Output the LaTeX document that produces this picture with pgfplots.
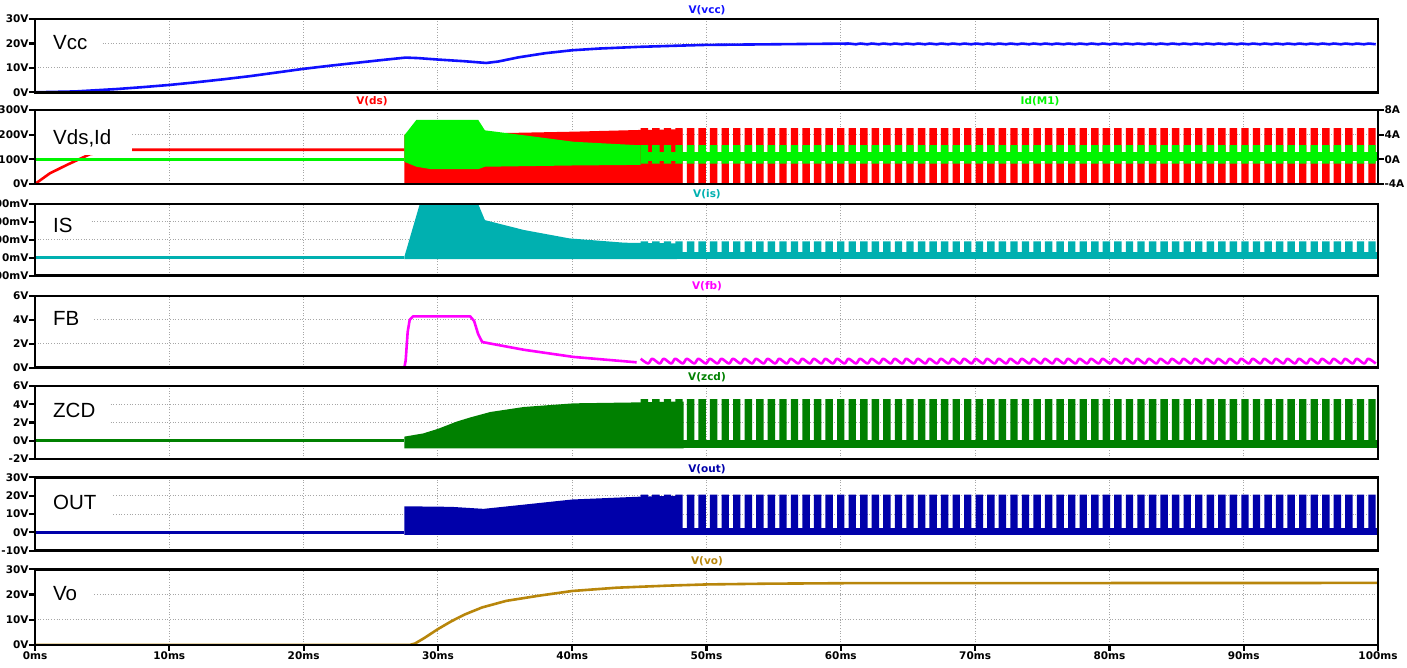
\documentclass[border=0pt]{standalone}
\usepackage{fontspec}
\setmainfont{DejaVu Sans}
\newfontfamily\labfam{Liberation Sans}
\usepackage{pgfplots}
\usepackage{pgfplotstable}
\pgfplotsset{compat=1.18}

\definecolor{vccblue}{RGB}{16,16,255}
\definecolor{vdsred}{RGB}{255,0,0}
\definecolor{idgreen}{RGB}{0,245,0}
\definecolor{isteal}{RGB}{0,176,176}
\definecolor{fbmag}{RGB}{255,0,255}
\definecolor{zcdgreen}{RGB}{0,128,0}
\definecolor{outblue}{RGB}{0,0,170}
\definecolor{vobrown}{RGB}{184,134,11}

\newcommand{\tickfont}{\fontsize{10.5pt}{12pt}\selectfont\bfseries}
\newcommand{\labfont}{\labfam\fontsize{20.5pt}{24pt}\selectfont}

\pgfplotstableread{
t f
45.10 0
45.10 1
45.65 0
45.96 1
46.51 0
46.82 1
47.37 0
47.68 1
48.23 0
48.54 1
49.09 0
49.40 1
49.95 0
50.26 1
50.81 0
51.12 1
51.67 0
51.98 1
52.53 0
52.84 1
53.39 0
53.70 1
54.25 0
54.56 1
55.11 0
55.42 1
55.97 0
56.28 1
56.83 0
57.14 1
57.69 0
58.00 1
58.55 0
58.86 1
59.41 0
59.72 1
60.27 0
60.58 1
61.13 0
61.44 1
61.99 0
62.30 1
62.85 0
63.16 1
63.71 0
64.02 1
64.57 0
64.88 1
65.43 0
65.74 1
66.29 0
66.60 1
67.15 0
67.46 1
68.01 0
68.32 1
68.87 0
69.18 1
69.73 0
70.04 1
70.59 0
70.90 1
71.45 0
71.76 1
72.31 0
72.62 1
73.17 0
73.48 1
74.03 0
74.34 1
74.89 0
75.20 1
75.75 0
76.06 1
76.61 0
76.92 1
77.47 0
77.78 1
78.33 0
78.64 1
79.19 0
79.50 1
80.05 0
80.36 1
80.91 0
81.22 1
81.77 0
82.08 1
82.63 0
82.94 1
83.49 0
83.80 1
84.35 0
84.66 1
85.21 0
85.52 1
86.07 0
86.38 1
86.93 0
87.24 1
87.79 0
88.10 1
88.65 0
88.96 1
89.51 0
89.82 1
90.37 0
90.68 1
91.23 0
91.54 1
92.09 0
92.40 1
92.95 0
93.26 1
93.81 0
94.12 1
94.67 0
94.98 1
95.53 0
95.84 1
96.39 0
96.70 1
97.25 0
97.56 1
98.11 0
98.42 1
98.97 0
99.28 1
99.83 0
}\bursts

\pgfplotsset{
  panel/.style={
    scale only axis, width=1343pt, xmin=0, xmax=100,
    anchor=south west, clip mode=individual,
    xtick={0,10,...,100},
    xmajorgrids, ymajorgrids,
    grid style={line width=0.9pt, color=gray!70, dash pattern=on 0.9pt off 1.8pt},
    axis line style={line width=2.6pt, black},
    every tick/.style={line width=2.2pt, black},
    major tick length=6pt, tick align=outside,
    ytick pos=left, xtick pos=bottom,
    yticklabel style={font=\tickfont, inner xsep=0.3pt},
    xticklabel style={font=\tickfont, inner ysep=1pt},
  },
  upper/.style={xmajorticks=false},
}
\tikzset{
  trace/.style={line width=2.6pt, line join=round},
  lab/.style={fill=white, anchor=west, inner xsep=0pt, inner ysep=6pt, font=\labfont, xshift=1.3pt},
  ttl/.style={font=\tickfont},
  frame/.style={line width=2.8pt, black},
}

\begin{document}
\begin{tikzpicture}
% ---------- Vcc ----------
\begin{axis}[panel, upper, at={(35pt,575.7pt)}, height=73.3pt,
  ymin=0, ymax=30, ytick={0,10,20,30}, yticklabels={0V,10V,20V,30V}]
\addplot[trace, vccblue] coordinates {(0,0)(3,0.35)(6,1.3)(8,2.1)(10,3.0)(12,4.1)(14,5.3)(16,6.6)(18,8.1)(20,9.6)(22,10.9)(24,12.1)(26,13.3)(27.6,14.2)(28.5,14.0)(30,13.4)(32,12.7)(33.6,12.0)(34.5,12.6)(36,14.3)(38,16.0)(40,17.2)(42,17.9)(45,18.6)(48,19.1)(50,19.4)(55,19.65)(60.58,19.95)};
\addplot[trace, vccblue, smooth, restrict x to domain=60:100] table[x=t, y expr={19.65+0.3*\thisrow{f}}] {\bursts};
\node[lab] at (axis cs:0,20.3) {\hspace*{16.7pt}Vcc\hspace*{15pt}};
\draw[frame] (rel axis cs:0,0) rectangle (rel axis cs:1,1);
\end{axis}

% ---------- Vds / Id ----------
\begin{axis}[panel, upper, at={(35pt,484pt)}, height=74pt,
  ymin=0, ymax=300, ytick={0,100,200,300}, yticklabels={0V,100V,200V,300V}]
\addplot[trace, vdsred] coordinates {(0,0)(1.1,43)(2.36,77)(4.1,121)(5.5,133)(7,139)(27.5,139)};
\addplot[fill=vdsred, draw=none] coordinates {(27.5,0)(27.5,200)(33.5,205)(40,212)(45,219)(48.2,222)(48.2,0)} -- cycle;
\addplot[const plot mark left, fill=vdsred, draw=none] table[x=t, y expr={226*\thisrow{f}}] {\bursts} -- cycle;
\end{axis}
\begin{axis}[scale only axis, width=1343pt, height=74pt, at={(35pt,484pt)}, anchor=south west,
  xmin=0, xmax=100, ymin=-4, ymax=8, clip mode=individual,
  axis y line*=right, axis x line=none,
  ytick={-4,0,4,8}, yticklabels={-4A,0A,4A,8A},
  axis line style={line width=2.6pt, black},
  every tick/.style={line width=2.2pt, black},
  major tick length=6pt, tick align=outside,
  yticklabel style={font=\tickfont, inner xsep=0.3pt}]
\addplot[trace, idgreen] coordinates {(0,0)(27.5,0)};
\addplot[fill=idgreen, draw=none] coordinates {(27.5,3.9)(27.9,5.0)(28.4,6.4)(33.0,6.4)(33.5,4.7)(36.4,3.9)(40.1,2.85)(44.8,2.3)(45.1,2.3)(45.1,-0.9)(40,-1.0)(33.5,-1.2)(33.0,-1.6)(29.5,-1.6)(28.4,-1.2)(27.5,-0.4)} -- cycle;
\addplot[fill=idgreen, draw=none] coordinates {(45.1,-0.2)(100,-0.2)(100,1.2)(45.1,1.2)} -- cycle;
\addplot[const plot mark left, fill=idgreen, draw=none] table[x=t, y expr={-0.7+3.0*\thisrow{f}}] {\bursts} -- cycle;
\node[lab, inner ysep=8pt] at (axis cs:0,3.35) {\hspace*{16.7pt}Vds,Id\hspace*{21pt}};
\draw[frame] (rel axis cs:0,0) rectangle (rel axis cs:1,1);
\end{axis}

% ---------- IS ----------
\begin{axis}[panel, upper, at={(35pt,392.3pt)}, height=71.7pt,
  ymin=-100, ymax=300, ytick={-100,0,100,200,300}, yticklabels={-100mV,0mV,100mV,200mV,300mV}]
\addplot[trace, isteal] coordinates {(0,0)(27.5,0)};
\addplot[fill=isteal, draw=none] coordinates {(27.5,-7)(27.5,5)(28.65,300)(33.0,300)(33.5,210)(36.4,155)(39.8,108)(43.9,84)(47.8,80)(47.8,-7)} -- cycle;
\addplot[fill=isteal, draw=none] coordinates {(45.1,-7)(100,-7)(100,33)(45.1,33)} -- cycle;
\addplot[const plot mark left, fill=isteal, draw=none] table[x=t, y expr={92*\thisrow{f}}] {\bursts} -- cycle;
\node[lab] at (axis cs:0,178) {\hspace*{16.7pt}IS\hspace*{17pt}};
\draw[frame] (rel axis cs:0,0) rectangle (rel axis cs:1,1);
\end{axis}

% ---------- FB ----------
\begin{axis}[panel, upper, at={(35pt,300.3pt)}, height=71.7pt,
  ymin=0, ymax=6, ytick={0,2,4,6}, yticklabels={0V,2V,4V,6V}]
\addplot[trace, fbmag] coordinates {(0,0)(27.5,0)(27.6,0.6)(27.75,3.0)(27.9,4.0)(28.15,4.3)(32.4,4.3)(32.7,3.9)(33.0,2.8)(33.3,2.15)(34,2.0)(36.4,1.5)(40.1,0.9)(44.8,0.45)};
\addplot[trace, fbmag, smooth, skip coords between index={0}{1}] table[x=t, y expr={0.35+0.4*\thisrow{f}}] {\bursts};
\node[lab] at (axis cs:0,4.13) {\hspace*{16.7pt}FB\hspace*{15pt}};
\draw[frame] (rel axis cs:0,0) rectangle (rel axis cs:1,1);
\end{axis}

% ---------- ZCD ----------
\begin{axis}[panel, upper, at={(35pt,209pt)}, height=73pt,
  ymin=-2, ymax=6, ytick={-2,0,2,4,6}, yticklabels={-2V,0V,2V,4V,6V}]
\addplot[trace, zcdgreen] coordinates {(0,0.05)(27.5,0.05)};
\addplot[fill=zcdgreen, draw=none] coordinates {(27.5,-0.83)(27.5,0.45)(28.9,0.8)(30,1.3)(31.4,2.1)(32.4,2.55)(33.9,3.15)(36.4,3.7)(40.1,4.1)(44.8,4.2)(48.3,4.3)(48.3,-0.83)} -- cycle;
\addplot[fill=zcdgreen, draw=none] coordinates {(45.1,-0.83)(100,-0.83)(100,0.1)(45.1,0.1)} -- cycle;
\addplot[const plot mark left, fill=zcdgreen, draw=none] table[x=t, y expr={4.55*\thisrow{f}}] {\bursts} -- cycle;
\node[lab] at (axis cs:0,3.37) {\hspace*{16.7pt}ZCD\hspace*{15pt}};
\draw[frame] (rel axis cs:0,0) rectangle (rel axis cs:1,1);
\end{axis}

% ---------- OUT ----------
\begin{axis}[panel, upper, at={(35pt,117.3pt)}, height=73.4pt,
  ymin=-10, ymax=30, ytick={-10,0,10,20,30}, yticklabels={-10V,0V,10V,20V,30V}]
\addplot[trace, outblue] coordinates {(0,0)(27.5,0)};
\addplot[fill=outblue, draw=none] coordinates {(27.5,-1.4)(27.5,14.2)(31,13.9)(33.4,12.8)(36.4,15.1)(40,17.9)(44.9,19.4)(47.8,19.9)(47.8,-1.4)} -- cycle;
\addplot[fill=outblue, draw=none] coordinates {(45.1,-1.4)(100,-1.4)(100,2.5)(45.1,2.5)} -- cycle;
\addplot[const plot mark left, fill=outblue, draw=none] table[x=t, y expr={20.6*\thisrow{f}}] {\bursts} -- cycle;
\node[lab] at (axis cs:0,16.3) {\hspace*{16.7pt}OUT\hspace*{17pt}};
\draw[frame] (rel axis cs:0,0) rectangle (rel axis cs:1,1);
\end{axis}

% ---------- Vo ----------
\begin{axis}[panel, at={(35pt,23pt)}, height=75.7pt,
  ymin=0, ymax=30, ytick={0,10,20,30}, yticklabels={0V,10V,20V,30V},
  xticklabels={0ms,10ms,20ms,30ms,40ms,50ms,60ms,70ms,80ms,90ms,100ms}]
\addplot[trace, vobrown] coordinates {(0,0)(27.9,0)(28.3,0.6)(29,2.8)(30,6.3)(31,9.4)(32,12.1)(33.3,14.9)(35.1,17.5)(37.6,19.6)(40,21.4)(43.3,22.7)(47,23.5)(50,24.0)(54.5,24.3)(60.5,24.5)(100,24.6)};
\node[lab] at (axis cs:0,20.5) {\hspace*{16.7pt}Vo\hspace*{17pt}};
\draw[frame] (rel axis cs:0,0) rectangle (rel axis cs:1,1);
\end{axis}

% ---------- trace titles ----------
\node[ttl, text=vccblue] at (707pt,657.5pt) {V(vcc)};
\node[ttl, text=vdsred] at (372pt,566.5pt) {V(ds)};
\node[ttl, text=idgreen] at (1040pt,566.5pt) {Id(M1)};
\node[ttl, text=isteal] at (707pt,473.5pt) {V(is)};
\node[ttl, text=fbmag] at (707pt,382pt) {V(fb)};
\node[ttl, text=zcdgreen] at (707pt,290.5pt) {V(zcd)};
\node[ttl, text=outblue] at (707pt,198.5pt) {V(out)};
\node[ttl, text=vobrown] at (707pt,107pt) {V(vo)};

\pgfresetboundingbox
\useasboundingbox (0pt,0pt) rectangle (1407pt,668pt);
\end{tikzpicture}
\end{document}
